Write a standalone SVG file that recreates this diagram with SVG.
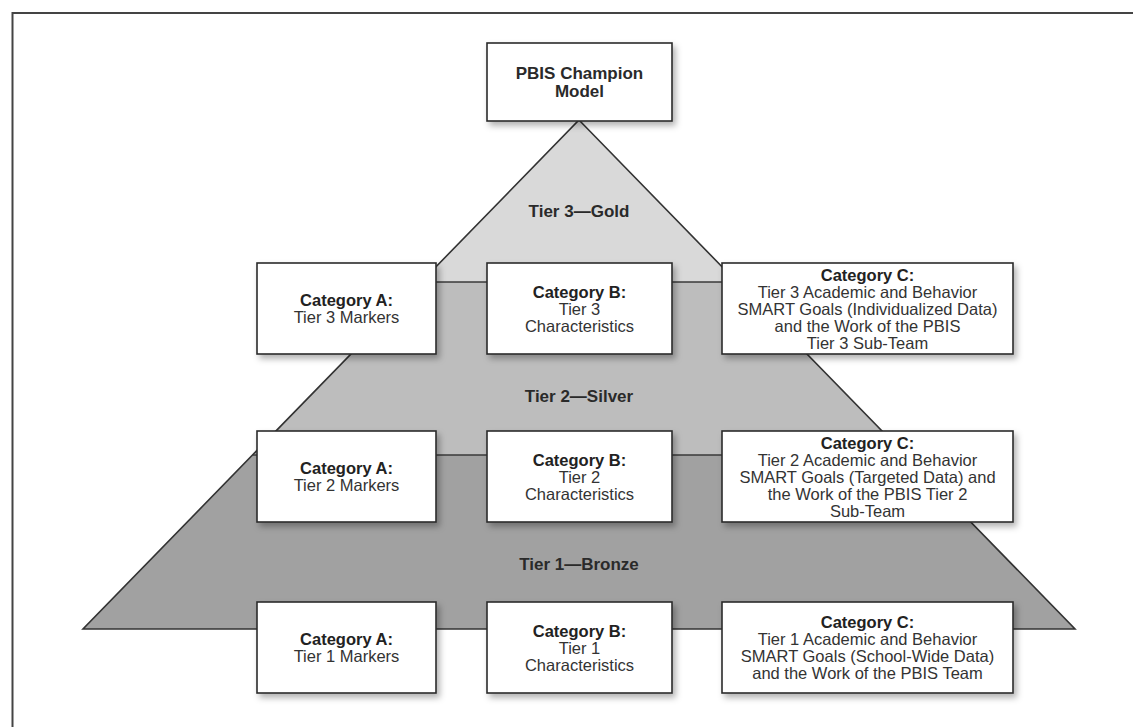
<svg xmlns="http://www.w3.org/2000/svg" width="1133" height="727" viewBox="0 0 1133 727">
  <defs>
    <filter id="shadow" x="-10%" y="-10%" width="130%" height="140%">
      <feDropShadow dx="3" dy="4" stdDeviation="3" flood-color="#000" flood-opacity="0.3"/>
    </filter>
  </defs>
  <style>
    .box { fill: #ffffff; stroke: #2b2b2b; stroke-width: 1.6; filter: url(#shadow); }
    .b { font-family: "Liberation Sans", Arial, sans-serif; font-size: 16.5px; font-weight: bold; fill: #222; text-anchor: middle; }
    .r { font-family: "Liberation Sans", Arial, sans-serif; font-size: 16.5px; fill: #333; text-anchor: middle; }
    .tier { font-family: "Liberation Sans", Arial, sans-serif; font-size: 17px; font-weight: bold; fill: #2a2a2a; text-anchor: middle; }
    .edge { fill: none; stroke: #333; stroke-width: 1.6; stroke-linejoin: miter; }
    .sep { stroke: #3a3a3a; stroke-width: 1.3; }
  </style>
  <rect x="0" y="0" width="1133" height="727" fill="#ffffff"/>
  <!-- frame -->
  <g id="frame">
    <line x1="12.5" y1="13" x2="1133" y2="13" stroke="#444" stroke-width="2"/>
    <line x1="12.5" y1="12" x2="12.5" y2="727" stroke="#444" stroke-width="2"/>
  </g>
  <!-- pyramid -->
  <g id="pyramid">
    <polygon id="tier3" points="579,120 421.1,282 736.9,282" fill="#d9d9d9"/>
    <polygon id="tier2" points="421.1,282 736.9,282 905.4,455 252.6,455" fill="#bdbdbd"/>
    <polygon id="tier1" points="252.6,455 905.4,455 1075,629 83,629" fill="#a1a1a1"/>
    <line class="sep" x1="421.1" y1="282" x2="736.9" y2="282"/>
    <line class="sep" x1="252.6" y1="455" x2="905.4" y2="455"/>
    <polygon class="edge" points="579,120 1075,629 83,629"/>
    <text class="tier" x="579" y="217">Tier 3—Gold</text>
    <text class="tier" x="579" y="402">Tier 2—Silver</text>
    <text class="tier" x="579" y="570">Tier 1—Bronze</text>
  </g>
  <!-- top node -->
  <g id="champion">
    <rect class="box" x="487" y="43" width="185" height="78"/>
    <text class="tier" x="579.5" y="79">PBIS Champion</text>
    <text class="tier" x="579.5" y="97">Model</text>
  </g>
  <!-- Tier 3 row -->
  <g id="a3">
    <rect class="box" x="257" y="263" width="179" height="91"/>
    <text class="b" x="346.5" y="306">Category A:</text>
    <text class="r" x="346.5" y="323">Tier 3 Markers</text>
  </g>
  <g id="b3">
    <rect class="box" x="487" y="263" width="185" height="91"/>
    <text class="b" x="579.5" y="298">Category B:</text>
    <text class="r" x="579.5" y="315">Tier 3</text>
    <text class="r" x="579.5" y="332">Characteristics</text>
  </g>
  <g id="c3">
    <rect class="box" x="722" y="263" width="291" height="91"/>
    <text class="b" x="867.5" y="281">Category C:</text>
    <text class="r" x="867.5" y="298">Tier 3 Academic and Behavior</text>
    <text class="r" x="867.5" y="315">SMART Goals (Individualized Data)</text>
    <text class="r" x="867.5" y="332">and the Work of the PBIS</text>
    <text class="r" x="867.5" y="349">Tier 3 Sub-Team</text>
  </g>
  <!-- Tier 2 row -->
  <g id="a2">
    <rect class="box" x="257" y="431" width="179" height="91"/>
    <text class="b" x="346.5" y="474">Category A:</text>
    <text class="r" x="346.5" y="491">Tier 2 Markers</text>
  </g>
  <g id="b2">
    <rect class="box" x="487" y="431" width="185" height="91"/>
    <text class="b" x="579.5" y="466">Category B:</text>
    <text class="r" x="579.5" y="483">Tier 2</text>
    <text class="r" x="579.5" y="500">Characteristics</text>
  </g>
  <g id="c2">
    <rect class="box" x="722" y="431" width="291" height="91"/>
    <text class="b" x="867.5" y="449">Category C:</text>
    <text class="r" x="867.5" y="466">Tier 2 Academic and Behavior</text>
    <text class="r" x="867.5" y="483">SMART Goals (Targeted Data) and</text>
    <text class="r" x="867.5" y="500">the Work of the PBIS Tier 2</text>
    <text class="r" x="867.5" y="517">Sub-Team</text>
  </g>
  <!-- Tier 1 row -->
  <g id="a1">
    <rect class="box" x="257" y="602" width="179" height="91"/>
    <text class="b" x="346.5" y="645">Category A:</text>
    <text class="r" x="346.5" y="662">Tier 1 Markers</text>
  </g>
  <g id="b1">
    <rect class="box" x="487" y="602" width="185" height="91"/>
    <text class="b" x="579.5" y="637">Category B:</text>
    <text class="r" x="579.5" y="654">Tier 1</text>
    <text class="r" x="579.5" y="671">Characteristics</text>
  </g>
  <g id="c1">
    <rect class="box" x="722" y="602" width="291" height="91"/>
    <text class="b" x="867.5" y="628">Category C:</text>
    <text class="r" x="867.5" y="645">Tier 1 Academic and Behavior</text>
    <text class="r" x="867.5" y="662">SMART Goals (School-Wide Data)</text>
    <text class="r" x="867.5" y="679">and the Work of the PBIS Team</text>
  </g>
  <g id="connectors"/>
</svg>
